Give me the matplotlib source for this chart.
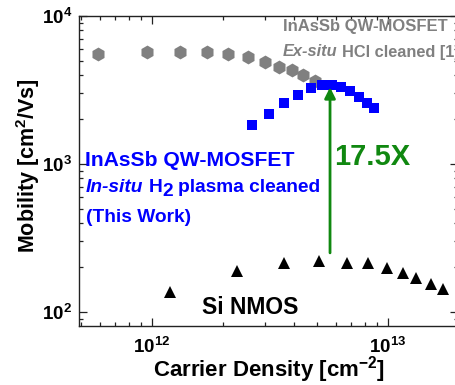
import matplotlib
matplotlib.use("Agg")
import matplotlib.pyplot as plt
from matplotlib.ticker import FixedLocator, FixedFormatter, LogLocator, NullFormatter

plt.rcParams["font.family"] = "Liberation Sans"
plt.rcParams["font.weight"] = "bold"
plt.rcParams["axes.labelweight"] = "bold"
plt.rcParams["mathtext.fontset"] = "custom"
plt.rcParams["mathtext.rm"] = "Liberation Sans:bold"
plt.rcParams["mathtext.bf"] = "Liberation Sans:bold"
plt.rcParams["mathtext.it"] = "Liberation Sans:bold:italic"

# InAsSb QW-MOSFET, ex-situ HCl cleaned [1]
hcl_density = [5.93e11, 9.5e11, 1.31e12, 1.71e12, 2.09e12, 2.55e12,
               3.0e12, 3.46e12, 3.91e12, 4.35e12, 4.89e12]
hcl_mobility = [5530, 5700, 5700, 5700, 5530, 5300, 4880, 4540, 4285, 3995, 3623]

# InAsSb QW-MOSFET, in-situ H2 plasma cleaned (this work)
h2_density = [2.66e12, 3.14e12, 3.64e12, 4.14e12, 4.7e12, 5.25e12,
              5.77e12, 6.32e12, 6.9e12, 7.5e12, 8.17e12, 8.75e12]
h2_mobility = [1841, 2193, 2594, 2938, 3251, 3405, 3421, 3301, 3105, 2840, 2587, 2394]

# Si NMOS
si_density = [1.19e12, 2.3e12, 3.64e12, 5.08e12, 6.68e12, 8.23e12,
              9.87e12, 1.16e13, 1.31e13, 1.52e13, 1.71e13]
si_mobility = [136, 188, 215, 221, 215, 215, 197, 184, 169, 155, 142]

# Enhancement arrow
arrow_density = 5.68e12
arrow_from = 251
arrow_to = 3300
gain_label = "17.5X"

x_ticks = [1e12, 1e13]
x_ticklabels = [r"$10^{12}$", r"$10^{13}$"]
y_ticks = [1e2, 1e3, 1e4]
y_ticklabels = [r"$10^{2}$", r"$10^{3}$", r"$10^{4}$"]

W, H = 455, 385
fig = plt.figure(figsize=(W / 100, H / 100), dpi=100)

# axes box in pixels: left, right, top, bottom
L, R, T, B = 79, 458, 16, 326
ax = fig.add_axes([L / W, 1 - B / H, (R - L) / W, (B - T) / H])
ax.set_xscale("log")
ax.set_yscale("log")
ax.set_xlim(10 ** 11.6907, 10 ** (12 + (R - 152) / 236))
ax.set_ylim(10 ** 1.9057, 1e4)

GRAY = "#808080"
BLUE = "#0000ff"
GREEN = "#108810"

ax.plot(hcl_density, hcl_mobility, "h", color=GRAY, markersize=10, markeredgewidth=0)
ax.plot(h2_density, h2_mobility, "s", color=BLUE, markersize=7.5, markeredgewidth=0)
ax.plot(si_density, si_mobility, "^", color="black", markersize=9, markeredgewidth=0)

ax.annotate("", xy=(arrow_density, arrow_to), xytext=(arrow_density, arrow_from),
            arrowprops=dict(arrowstyle="-|>", color=GREEN, lw=2,
                            mutation_scale=16, shrinkA=0, shrinkB=0))

ax.xaxis.set_major_locator(FixedLocator(x_ticks))
ax.xaxis.set_major_formatter(FixedFormatter(x_ticklabels))
ax.yaxis.set_major_locator(FixedLocator(y_ticks))
ax.yaxis.set_major_formatter(FixedFormatter(y_ticklabels))
for axis in (ax.xaxis, ax.yaxis):
    axis.set_minor_locator(LogLocator(base=10, subs=range(2, 10)))
    axis.set_minor_formatter(NullFormatter())

ax.tick_params(which="both", direction="in", top=True, right=True, width=0.9,
               color="#222222")
ax.tick_params(which="major", length=6, labelsize=13.5, pad=5)
ax.tick_params(which="minor", length=3)
ax.tick_params(axis="x", which="major", pad=8)
for s in ax.spines.values():
    s.set_linewidth(1.0)
    s.set_color("#222222")

ax.set_xlabel(r"Carrier Density [cm$^{-2}$]", fontsize=16, fontweight="bold",
              va="center", ha="center")
ax.set_ylabel(r"Mobility [cm$^{2}$/Vs]", fontsize=15.5, fontweight="bold",
              va="center", ha="center")
ax.xaxis.set_label_coords((269 - L) / (R - L), (B - 370) / (B - T))
ax.yaxis.set_label_coords((28 - L) / (R - L), (B - 166) / (B - T))


def px(x, y):
    return x / W, 1 - y / H


fig.canvas.draw()
renderer = fig.canvas.get_renderer()


def chain(x, y, pieces, color, size):
    """Write text pieces one after another on a line; each piece is
    (text, italic, vertical shift in pixels, gap before in pixels)."""
    cur = x
    for text, italic, dy, gap in pieces:
        cur += gap
        t = fig.text(*px(cur, y + dy), text, color=color, fontsize=size,
                     style="italic" if italic else "normal", fontweight="bold",
                     ha="left", va="center")
        cur = t.get_window_extent(renderer).x1


space = 4
fig.text(*px(283, 26), "InAsSb QW-MOSFET", color=GRAY, fontsize=12,
         fontweight="bold", ha="left", va="center")
chain(283, 52, [("Ex-situ", True, 0, 0), ("HCl cleaned [1]", False, 0, space)],
      GRAY, 11.8)

fig.text(*px(85, 161), "InAsSb QW-MOSFET", color=BLUE, fontsize=15.2,
         fontweight="bold", ha="left", va="center")
chain(86, 187, [("In-situ", True, 0, 0), ("H", False, 0, space + 1),
                ("2", False, 5, 0.5), ("plasma cleaned", False, 0, space + 1)],
      BLUE, 13.8)
fig.text(*px(86, 218), "(This Work)", color=BLUE, fontsize=13.8,
         fontweight="bold", ha="left", va="center")

fig.text(*px(334, 157), gain_label, color=GREEN, fontsize=21, fontweight="bold",
         ha="left", va="center")
fig.text(*px(202, 307), "Si NMOS", color="black", fontsize=16.5, fontweight="bold",
         ha="left", va="center")

fig.savefig("out.png", dpi=100)
